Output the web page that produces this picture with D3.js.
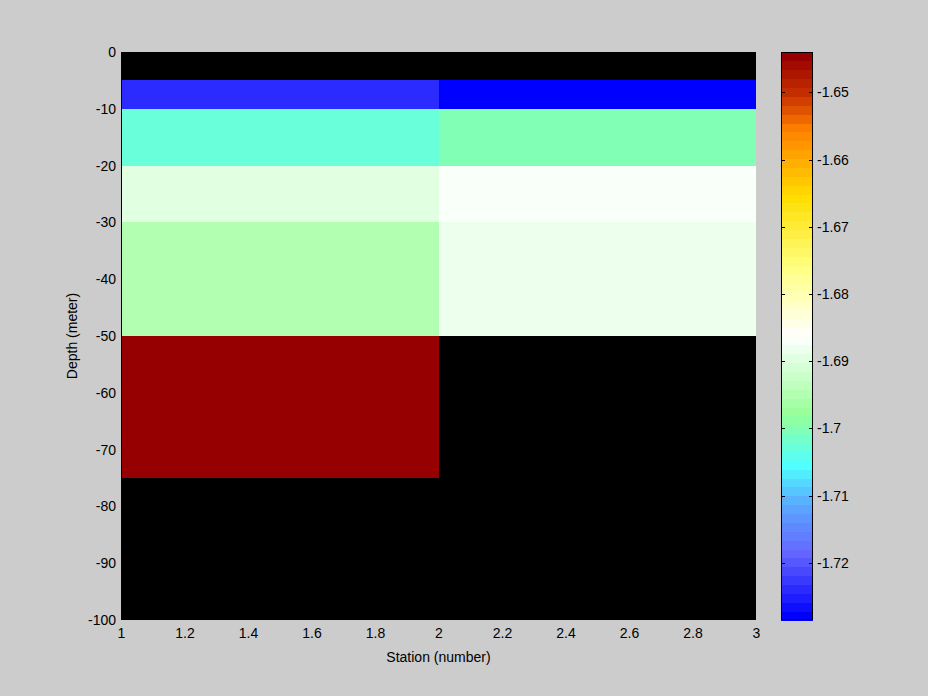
<!DOCTYPE html>
<html>
<head>
<meta charset="utf-8">
<script src="https://cdn.jsdelivr.net/npm/d3@7"></script>
<style>
  html, body { margin: 0; padding: 0; background: #cccccc; }
  svg { display: block; }
  text { font-family: "Liberation Sans", Arial, sans-serif; font-size: 14px; fill: #000; }
</style>
</head>
<body>
<script>
// ---- data ----
const stationEdges = [1, 2, 3];                       // column edges (Station)
const depthEdges = [0, -5, -10, -20, -30, -50, -75, -100]; // layer edges (meter)
const station1 = [null, -1.7242, -1.7028, -1.6898, -1.6948, -1.6440, null];
const station2 = [null, -1.7285, -1.7006, -1.6868, -1.6880, null, null];
const xTicks = [1, 1.2, 1.4, 1.6, 1.8, 2, 2.2, 2.4, 2.6, 2.8, 3];
const yTicks = [0, -10, -20, -30, -40, -50, -60, -70, -80, -90, -100];
const cTicks = [-1.72, -1.71, -1.7, -1.69, -1.68, -1.67, -1.66, -1.65];
// colormap anchor stops (position 0 = min, 1 = max)
const cmapStops = [0, 0.11, 0.2, 0.27, 0.36, 0.5, 0.625, 0.75, 0.87, 0.93, 1];
const cmapColors = ["#0000ff", "#6464ff", "#5aaaff", "#50ffff", "#96ff96", "#ffffff",
                    "#ffff80", "#ffdd00", "#ff8000", "#c83200", "#960000"];
const nColors = 64;

// ---- layout ----
const W = 928, H = 696;
const plot = { x0: 121, x1: 756, y0: 52, y1: 620 };
const cbar = { x0: 781, x1: 813 };
const FONT = "Liberation Sans, Arial, sans-serif";
const fmt = d => d3.format("~g")(d).replace("\u2212", "-");

const svg = d3.select("body").append("svg").attr("width", W).attr("height", H);
svg.append("rect").attr("width", W).attr("height", H).attr("fill", "#cccccc");

const x = d3.scaleLinear().domain([1, 3]).range([plot.x0, plot.x1]);
const y = d3.scaleLinear().domain([0, -100]).range([plot.y0, plot.y1]);

const series = [station1, station2];
const allVals = series.flat().filter(v => v != null);
const [cmin, cmax] = d3.extent(allVals);

const interp = d3.scaleLinear().domain(cmapStops).range(cmapColors).interpolate(d3.interpolateRgb);
const palette = d3.range(nColors).map(i => d3.color(interp(i / (nColors - 1))).formatHex());
function colorOf(v) {
  let i = Math.floor((v - cmin) / (cmax - cmin) * nColors);
  i = Math.max(0, Math.min(nColors - 1, i));
  return palette[i];
}

// plot background (NaN shown as black)
svg.append("rect")
  .attr("x", plot.x0).attr("y", plot.y0)
  .attr("width", plot.x1 - plot.x0).attr("height", plot.y1 - plot.y0)
  .attr("fill", "#000");

const cells = [];
series.forEach((vals, si) => {
  vals.forEach((v, li) => {
    if (v != null) cells.push({ xa: stationEdges[si], xb: stationEdges[si + 1], ya: depthEdges[li], yb: depthEdges[li + 1], v });
  });
});
svg.append("g").selectAll("rect").data(cells).join("rect")
  .attr("x", d => x(d.xa)).attr("y", d => y(d.ya))
  .attr("width", d => x(d.xb) - x(d.xa)).attr("height", d => y(d.yb) - y(d.ya))
  .attr("fill", d => colorOf(d.v))
  .attr("shape-rendering", "crispEdges");

// axes
const xAxis = d3.axisBottom(x).tickValues(xTicks).tickSize(0).tickPadding(8).tickFormat(fmt);
const gx = svg.append("g").attr("transform", `translate(0,${plot.y1})`).call(xAxis);
gx.select(".domain").remove();
gx.selectAll("text").style("font-family", FONT).style("font-size", "14px").attr("fill", "#000");

const yAxis = d3.axisLeft(y).tickValues(yTicks).tickSize(0).tickPadding(5).tickFormat(fmt);
const gy = svg.append("g").attr("transform", `translate(${plot.x0},0)`).call(yAxis);
gy.select(".domain").remove();
gy.selectAll("text").style("font-family", FONT).style("font-size", "14px").attr("fill", "#000");

// left axis line
svg.append("line").attr("x1", plot.x0 + 0.5).attr("x2", plot.x0 + 0.5)
  .attr("y1", plot.y0).attr("y2", plot.y1).attr("stroke", "#000");

svg.append("text").attr("x", (plot.x0 + plot.x1) / 2).attr("y", 662)
  .attr("text-anchor", "middle").text("Station (number)");
svg.append("text").attr("transform", `translate(77,${(plot.y0 + plot.y1) / 2}) rotate(-90)`)
  .attr("text-anchor", "middle").text("Depth (meter)");

// colorbar
const cy = d3.scaleLinear().domain([cmin, cmax]).range([plot.y1, plot.y0]);
const step = (cmax - cmin) / nColors;
svg.append("g").selectAll("rect").data(palette).join("rect")
  .attr("x", cbar.x0).attr("width", cbar.x1 - cbar.x0)
  .attr("y", (d, i) => cy(cmin + (i + 1) * step))
  .attr("height", (d, i) => cy(cmin + i * step) - cy(cmin + (i + 1) * step) + 0.5)
  .attr("fill", d => d)
  .attr("shape-rendering", "crispEdges");
svg.append("rect").attr("x", cbar.x0 + 0.5).attr("y", plot.y0 + 0.5)
  .attr("width", cbar.x1 - cbar.x0 - 1).attr("height", plot.y1 - plot.y0 - 1)
  .attr("fill", "none").attr("stroke", "#000");

const gc = svg.append("g").attr("transform", `translate(${cbar.x1},0)`)
  .call(d3.axisRight(cy).tickValues(cTicks).tickSize(0).tickPadding(4).tickFormat(fmt));
gc.select(".domain").remove();
gc.selectAll("text").style("font-family", FONT).style("font-size", "14px").attr("fill", "#000");

const tickG = svg.append("g");
cTicks.forEach(t => {
  const yy = Math.round(cy(t)) + 0.5;
  tickG.append("line").attr("x1", cbar.x0).attr("x2", cbar.x0 + 4).attr("y1", yy).attr("y2", yy).attr("stroke", "#000");
  tickG.append("line").attr("x1", cbar.x1 - 4).attr("x2", cbar.x1).attr("y1", yy).attr("y2", yy).attr("stroke", "#000");
});
</script>
</body>
</html>
